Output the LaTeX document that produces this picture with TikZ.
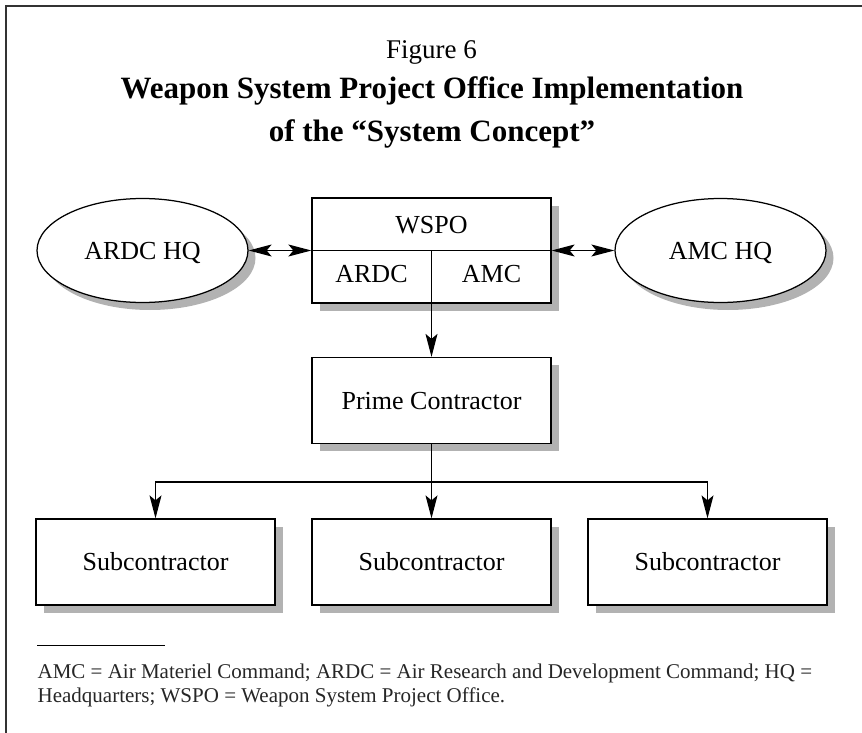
\documentclass[tikz,border=0pt]{standalone}
\usepackage{fontspec}
\setmainfont{Liberation Serif}
\usetikzlibrary{arrows.meta, shapes.geometric, shadows}

\begin{document}
\begin{tikzpicture}[x = 1pt, y = -1pt,
                > = {Stealth[length=23pt, width=12pt, inset=5pt]}, % arrow head style
                node distance = 150pt, % distance between nodes
                line width = 1.25pt % line style
            ]

            \tikzstyle{every node}=[font=\fontsize{26}{30}\selectfont,
            text height = 17pt, text depth = 0pt]
            \tikzstyle{shade}=[drop shadow={shadow xshift=7.5pt,
            shadow yshift=-7.5pt, fill=black!30, opacity=1}]
            \tikzstyle{block}=[draw, rectangle, fill=white, shade,
            minimum width = 239pt, minimum height = 86pt, inner sep = 0pt]
            \tikzstyle{hq}=[draw, ellipse, fill=white, shade,
            minimum width = 211pt, minimum height = 104pt, inner sep = 0pt]

            \useasboundingbox (0,0) rectangle (862,733);
            \draw[line width = 1.5pt, black!80] (862,6) -- (6,6) -- (6,733);

            % heading
            \node[anchor = base, font = \fontsize{27}{31}\selectfont] (fig)
            at (431.5,59) {Figure 6};
            \node[anchor = base, font = \bfseries\fontsize{31}{36}\selectfont]
            (title1) at (432,99) {Weapon System Project Office Implementation};
            \node[anchor = base, font = \bfseries\fontsize{31}{36}\selectfont]
            (title2) at (432,142) {of the ``System Concept''};

            \node[block, minimum height = 105pt] (wspo) at (431.5,250.5) {};
            \node[hq, left of=wspo, node distance = 289pt] (ardc) {ARDC HQ};
            \node[hq, right of=wspo, node distance = 289pt] (amc) {AMC HQ};
            \node[yshift = 26pt] (wspotxt) at (wspo) {WSPO};
            \node[xshift = -60pt, yshift = -23pt] (ardcpart) at (wspo) {ARDC};
            \node[xshift = 60pt, yshift = -23pt] (amcpart) at (wspo) {AMC};
            \draw (wspo.west) -- (wspo.east); \draw (wspo.center) -- (wspo.south);

            \node[block, below of=wspo] (prime) {Prime Contractor};
            \node[block, below of=prime, node distance = 161.5pt] (sub2)
            {Subcontractor}; \node[block, left of=sub2, node distance = 276pt]
            (sub1) {Subcontractor}; \node[block, right of=sub2, node distance =
            276pt] (sub3) {Subcontractor};
            \coordinate[below of=prime, node distance = 81.5pt] (fork);

            \path[<->] (ardc) edge (wspo.west); \path[<->] (amc) edge
            (wspo.east); \path[->] (wspo.south) edge (prime); \path[->] (prime)
            edge (sub2); \draw[->] (fork) -| (sub1); \draw[->] (fork) -| (sub3);

            % note
            \draw[line width = 0.8pt] (37,645) -- (165,645);
            \node[anchor = base west, inner sep = 0pt, black!85,
            font = \fontsize{21}{24}\selectfont] (note1) at (37,678)
            {AMC = Air Materiel Command; ARDC = Air Research and Development Command; HQ =};
            \node[anchor = base west, inner sep = 0pt, black!85,
            font = \fontsize{21}{24}\selectfont] (note2) at (37,702)
            {Headquarters; WSPO = Weapon System Project Office.};
\end{tikzpicture}
\end{document}
